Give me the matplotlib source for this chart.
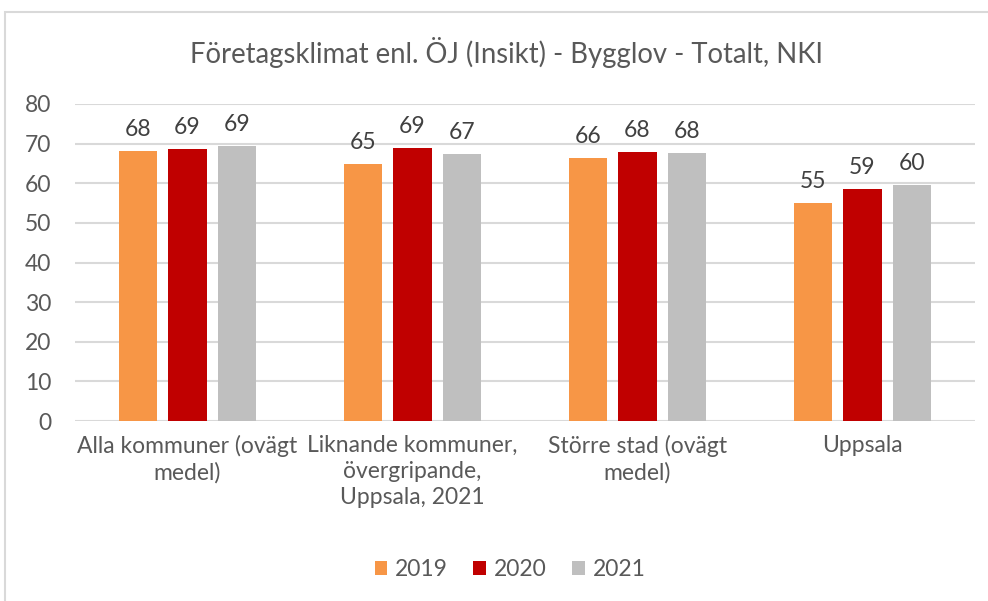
import numpy as np
import matplotlib.pyplot as plt
from matplotlib.patches import Rectangle

categories = ['Alla kommuner (ovägt\nmedel)',
              'Liknande kommuner,\növergripande,\nUppsala, 2021',
              'Större stad (ovägt\nmedel)',
              'Uppsala']
years = ['2019', '2020', '2021']
v2019 = [68.2, 64.9, 66.4, 55.0]
v2020 = [68.6, 68.8, 67.9, 58.6]
v2021 = [69.4, 67.4, 67.6, 59.6]
colors = ['#f79646', '#c00000', '#bfbfbf']

plt.rcParams['font.family'] = ['Lato', 'DejaVu Sans']
txt = '#595959'

fig = plt.figure(figsize=(9.88, 6.01), dpi=100)
fig.patches.append(Rectangle((5 / 988, -0.01), 1.0, 1 - 12 / 601 + 0.01,
                             transform=fig.transFigure, fill=False,
                             edgecolor='#d9d9d9', linewidth=1.5))
ax = fig.add_axes([75 / 988, 1 - 421 / 601, 900 / 988, 317 / 601])

x = np.arange(len(categories))
width = 0.173
step = 0.22
for i, (vals, yr) in enumerate(zip([v2019, v2020, v2021], years)):
    bars = ax.bar(x + (i - 1) * step, vals, width, color=colors[i], label=yr, zorder=3)
    for b, v in zip(bars, vals):
        ax.text(b.get_x() + b.get_width() / 2, v + 2.8, f'{v:.0f}',
                ha='center', va='bottom', fontsize=16.5, color='#404040')

ax.set_xlim(-0.5, 3.5)
ax.set_ylim(0, 80)
ax.set_yticks(range(0, 81, 10))
ax.yaxis.grid(True, color='#d9d9d9', linewidth=1.5, zorder=0)
ax.set_axisbelow(True)
for s in ax.spines.values():
    s.set_visible(False)
ax.tick_params(axis='both', length=0, labelsize=16.5, labelcolor=txt)
ax.tick_params(axis='y', pad=17)
ax.tick_params(axis='x', pad=10)
ax.set_xticks(x)
ax.set_xticklabels(categories, linespacing=1.3)

fig.text(506 / 988, 1 - 52 / 601, 'Företagsklimat enl. ÖJ (Insikt) - Bygglov - Totalt, NKI',
         ha='center', va='center', fontsize=19.8, color=txt)

ax.legend(loc='center', bbox_to_anchor=(510 / 988, 1 - 570 / 601), bbox_transform=fig.transFigure,
          ncol=3, frameon=False, fontsize=16.5, labelcolor=txt, handlelength=0.55,
          handleheight=0.55, handletextpad=0.35, columnspacing=1.1)

fig.savefig('out.png', dpi=100)
